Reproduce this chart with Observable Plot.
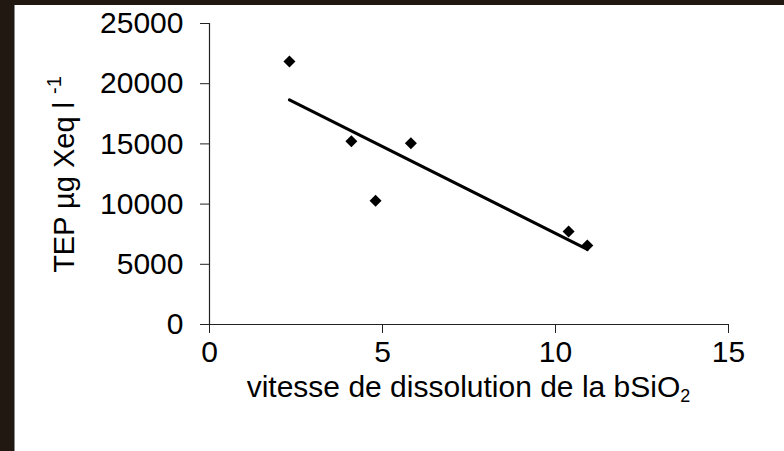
<!DOCTYPE html>
<html>
<head>
<meta charset="utf-8">
<script src="https://cdn.jsdelivr.net/npm/d3@7"></script>
<script src="https://cdn.jsdelivr.net/npm/@observablehq/plot@0.6"></script>
<style>
  html, body { margin: 0; padding: 0; background: #fff; }
  #outer { position: relative; width: 784px; height: 451px; background: #221812; overflow: hidden; }
  #inner { position: absolute; left: 14px; top: 5px; width: 769px; height: 446px; background: #fff; border-left: 1px solid #8a8a8a; }
  #inner svg { display: block; background: #fff; }
</style>
</head>
<body>
<div id="outer"><div id="inner"></div></div>
<script>
// Data
const vitesse = [2.31, 4.10, 4.80, 5.82, 10.38, 10.92];   // dissolution rate of bSiO2
const tep = [21850, 15220, 10270, 15060, 7720, 6560];      // TEP µg Xeq l-1
const xTicks = [0, 5, 10, 15];
const yTicks = [0, 5000, 10000, 15000, 20000, 25000];
const xLabelMain = "vitesse de dissolution de la bSiO";
const xLabelSub = "2";
const yLabelMain = "TEP µg Xeq l";
const yLabelSup = "-1";

const data = vitesse.map((v, i) => ({x: v, y: tep[i]}));

const W = 769, H = 446;
const font = "'Liberation Sans', Arial, sans-serif";

const chart = Plot.plot({
  width: W,
  height: H,
  marginLeft: 194,
  marginRight: 56,
  marginTop: 18,
  marginBottom: 127,
  style: {fontFamily: font, fontSize: "30px", color: "#000", background: "#fff", overflow: "visible"},
  x: {domain: [0, 15]},
  y: {domain: [0, 25000]},
  marks: [
    Plot.axisX({ticks: xTicks, tickSize: 9, tickPadding: 7, label: null, stroke: "#222", fill: "#000", tickFormat: d => String(d)}),
    Plot.axisY({ticks: yTicks, tickSize: 9, tickPadding: 17, label: null, stroke: "#222", fill: "#000", tickFormat: d => String(d)}),
    Plot.ruleY([0], {stroke: "#222", strokeWidth: 1.2}),
    Plot.ruleX([0], {stroke: "#222", strokeWidth: 1.2}),
    Plot.linearRegressionY(data, {x: "x", y: "y", ci: 0, stroke: "#000", strokeWidth: 3}),
    Plot.dot(data, {x: "x", y: "y", symbol: "diamond2", r: 5.4, fill: "#000", stroke: "none"})
  ]
});

document.getElementById("inner").appendChild(chart);

const svg = d3.select(chart);
const xs = chart.scale("x"), ys = chart.scale("y");
const cx = (xs.range[0] + xs.range[1]) / 2;
const cy = (ys.range[0] + ys.range[1]) / 2;

// x-axis title with subscript
const xt = svg.append("text")
  .attr("x", cx).attr("y", 392)
  .attr("text-anchor", "middle")
  .style("font-family", font).style("font-size", "30px").attr("fill", "#000");
xt.append("tspan").text(xLabelMain);
xt.append("tspan").text(xLabelSub).attr("dy", 5).style("font-size", "18px");

// y-axis title with superscript
const yt = svg.append("text")
  .attr("transform", `translate(59,${cy + 1}) rotate(-90)`)
  .attr("text-anchor", "middle")
  .style("font-family", font).style("font-size", "29px").attr("fill", "#000");
yt.append("tspan").text(yLabelMain);
yt.append("tspan").text(yLabelSup).attr("dy", -13).attr("dx", 8).style("font-size", "20px");
</script>
</body>
</html>
